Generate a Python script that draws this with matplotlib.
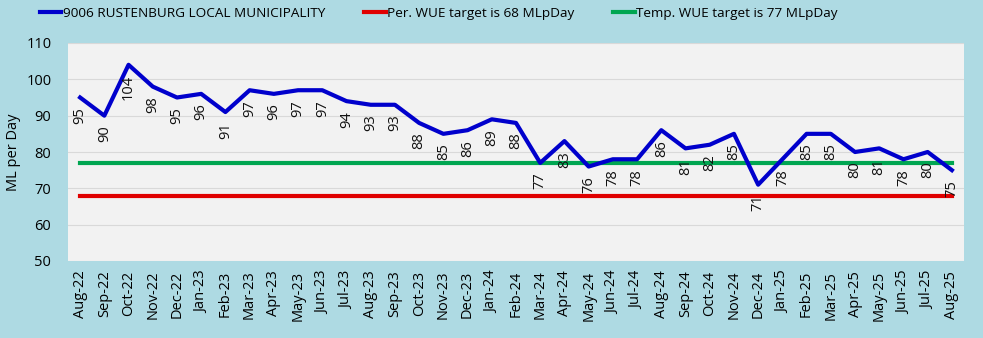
import numpy as np
import matplotlib
matplotlib.use("Agg")
import matplotlib.pyplot as plt
from matplotlib.lines import Line2D

MONTHS = [
    "Aug-22", "Sep-22", "Oct-22", "Nov-22", "Dec-22", "Jan-23", "Feb-23",
    "Mar-23", "Apr-23", "May-23", "Jun-23", "Jul-23", "Aug-23", "Sep-23",
    "Oct-23", "Nov-23", "Dec-23", "Jan-24", "Feb-24", "Mar-24", "Apr-24",
    "May-24", "Jun-24", "Jul-24", "Aug-24", "Sep-24", "Oct-24", "Nov-24",
    "Dec-24", "Jan-25", "Feb-25", "Mar-25", "Apr-25", "May-25", "Jun-25",
    "Jul-25", "Aug-25",
]
USAGE = [
    95, 90, 104, 98, 95, 96, 91, 97, 96, 97, 97, 94, 93, 93, 88, 85, 86, 89,
    88, 77, 83, 76, 78, 78, 86, 81, 82, 85, 71, 78, 85, 85, 80, 81, 78, 80, 75,
]
PER_TARGET = 68
TEMP_TARGET = 77

BLUE = "#0000CC"
RED = "#E00000"
GREEN = "#00A651"

plt.rcParams["font.family"] = ["Open Sans", "DejaVu Sans"]

fig = plt.figure(figsize=(9.83, 3.38), dpi=100)
fig.patch.set_facecolor("#AEDAE3")
ax = fig.add_axes([68 / 983, 1 - 261 / 338, (964 - 68) / 983, (261 - 43) / 338])
ax.set_facecolor("#F2F2F2")

x = np.arange(len(MONTHS))
ax.plot(x, [PER_TARGET] * len(x), color=RED, lw=3, zorder=2)
ax.plot(x, [TEMP_TARGET] * len(x), color=GREEN, lw=3, zorder=2)
ax.plot(x, USAGE, color=BLUE, lw=3, zorder=3)

# value labels sit under each point, reading bottom to top
for xi, v in zip(x, USAGE):
    ax.annotate(str(v), (xi, v), textcoords="offset points", xytext=(0, -7),
                rotation=90, ha="center", va="top", fontsize=10.5,
                color="#111111", zorder=4)

ax.set_xlim(-0.5, len(MONTHS) - 0.5)
ax.set_ylim(50, 110)
ax.set_yticks(range(50, 111, 10))
ax.set_xticks(x)
ax.set_xticklabels(MONTHS, rotation=90)
ax.tick_params(axis="x", length=0, labelsize=10.5, pad=7)
ax.tick_params(axis="y", length=0, labelsize=10.5, pad=12)
ax.grid(axis="y", color="#D9D9D9", lw=0.8, zorder=0)
ax.set_axisbelow(True)
for s in ax.spines.values():
    s.set_visible(False)
ax.set_ylabel("ML per Day", fontsize=10.5)
ax.yaxis.set_label_coords(-0.052, 0.5)

handles = [
    Line2D([], [], color=BLUE, lw=3),
    Line2D([], [], color=RED, lw=3),
    Line2D([], [], color=GREEN, lw=3),
]
labels = [
    "9006 RUSTENBURG LOCAL MUNICIPALITY",
    f"Per. WUE target is {PER_TARGET} MLpDay",
    f"Temp. WUE target is {TEMP_TARGET} MLpDay",
]
fig.legend(handles, labels, loc="upper left", bbox_to_anchor=(0.028, 1.015),
           ncol=3, frameon=False, fontsize=9.7, handlelength=1.6,
           handletextpad=0.1, columnspacing=2.9)

fig.savefig("out.png", dpi=100, facecolor=fig.get_facecolor())
